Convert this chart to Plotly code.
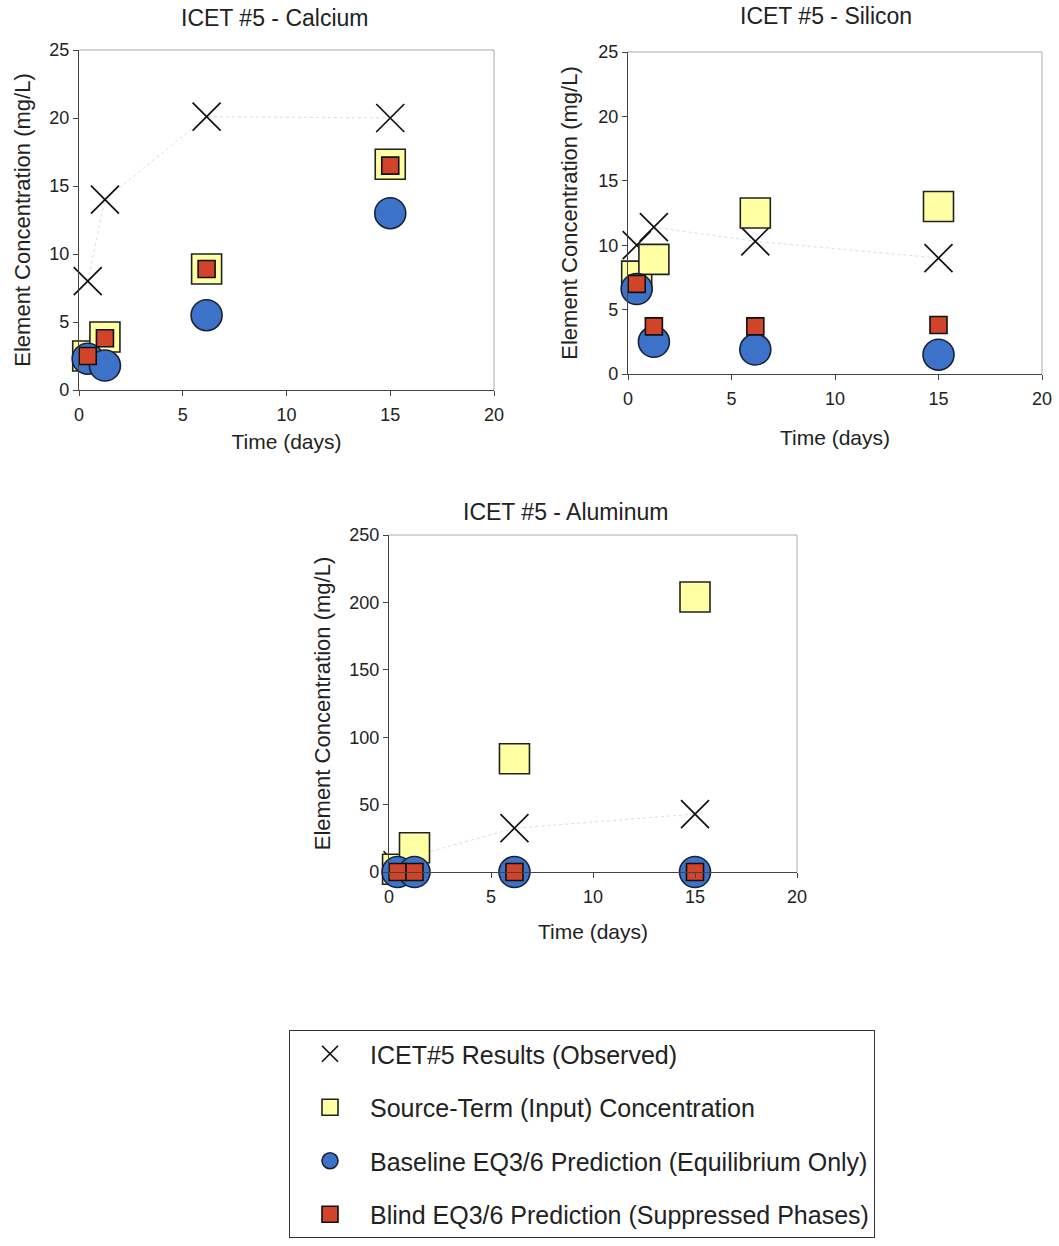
import plotly.graph_objects as go

# ---- data ----
days = [0.42, 1.25, 6.15, 15.0]

ca_observed = [8.0, 14.0, 20.1, 20.0]
ca_source = [2.5, 3.9, 8.9, 16.6]
ca_baseline = [2.3, 1.8, 5.5, 13.0]
ca_blind = [2.5, 3.8, 8.9, 16.5]

si_observed = [10.0, 11.4, 10.3, 9.0]
si_source = [7.6, 8.9, 12.5, 13.0]
si_baseline = [6.6, 2.5, 1.9, 1.5]
si_blind = [7.0, 3.7, 3.7, 3.8]

al_observed = [5.0, 12.0, 32.5, 43.0]
al_source = [2.0, 18.0, 84.0, 204.0]
al_baseline = [0.0, 0.0, 0.0, 0.0]
al_blind = [0.0, 0.0, 0.0, 0.0]

series_names = [
    "ICET#5 Results (Observed)",
    "Source-Term (Input) Concentration",
    "Baseline EQ3/6 Prediction (Equilibrium Only)",
    "Blind EQ3/6 Prediction (Suppressed Phases)",
]
titles = ["ICET #5 - Calcium", "ICET #5 - Silicon", "ICET #5 - Aluminum"]
x_title = "Time (days)"
y_title = "Element Concentration (mg/L)"

panels = [
    (ca_observed, ca_source, ca_baseline, ca_blind),
    (si_observed, si_source, si_baseline, si_blind),
    (al_observed, al_source, al_baseline, al_blind),
]

FONT = "Arial, 'Liberation Sans', sans-serif"
W, H = 1059, 1246

# pixel boxes of the plot areas: (left, right, top, bottom)
boxes = [(79, 494, 50, 390), (628, 1042, 52, 374), (389, 797, 535, 872)]
title_pos = [(274, 18), (826, 16), (565, 512)]
yranges = [[0, 25], [0, 25], [0, 250]]
ydticks = [5, 5, 50]
x_standoff = [10, 22, 18]
y_standoff = [12, 14, 12]

fig = go.Figure()

styles = [
    dict(symbol="x-thin-open", size=28, color="#111", line=dict(width=1.7, color="#111")),
    dict(symbol="square", size=30, color="#FFFFA3", line=dict(width=1.6, color="#222")),
    dict(symbol="circle", size=31, color="#3C72C8", line=dict(width=1.6, color="#1b2238")),
    dict(symbol="square", size=17, color="#D2442A", line=dict(width=1.6, color="#111")),
]

for i, data in enumerate(panels):
    xa = "x" if i == 0 else f"x{i+1}"
    ya = "y" if i == 0 else f"y{i+1}"
    # faint dotted line joining observed results
    fig.add_trace(go.Scatter(
        x=days, y=data[0], mode="lines", xaxis=xa, yaxis=ya,
        line=dict(color="#dddddd", width=1, dash="dot"),
        showlegend=False, hoverinfo="skip", cliponaxis=False,
    ))
    for k, vals in enumerate(data):
        fig.add_trace(go.Scatter(
            x=days, y=vals, mode="markers", xaxis=xa, yaxis=ya,
            name=series_names[k], legendgroup=f"g{k}",
            showlegend=(i == 0), marker=styles[k], cliponaxis=False,
        ))

layout = dict(
    width=W, height=H,
    margin=dict(l=0, r=0, t=0, b=0, autoexpand=False),
    paper_bgcolor="white", plot_bgcolor="white",
    font=dict(family=FONT, color="#222"),
    showlegend=True,
    legend=dict(
        x=289 / W, xanchor="left", y=1 - 1030 / H, yanchor="top",
        bordercolor="#333", borderwidth=1, bgcolor="white",
        font=dict(size=25, family=FONT, color="#222"),
        tracegroupgap=18, itemsizing="trace", itemwidth=70,
    ),
    annotations=[],
    shapes=[],
)

for i, (l, r, t, b) in enumerate(boxes):
    xk = "xaxis" if i == 0 else f"xaxis{i+1}"
    yk = "yaxis" if i == 0 else f"yaxis{i+1}"
    ya = "y" if i == 0 else f"y{i+1}"
    xa = "x" if i == 0 else f"x{i+1}"
    layout[xk] = dict(
        domain=[l / W, r / W], anchor=ya, range=[0, 20], dtick=5, automargin=False,
        showgrid=False, zeroline=False, showline=True, linecolor="#444", linewidth=1.2,
        ticks="outside", ticklen=5, tickcolor="#444", ticklabelstandoff=3,
        tickfont=dict(size=18, family=FONT, color="#222"),
        title=dict(text=x_title, font=dict(size=21, family=FONT, color="#222"),
                   standoff=x_standoff[i]),
    )
    layout[yk] = dict(
        domain=[1 - b / H, 1 - t / H], anchor=xa, range=yranges[i], dtick=ydticks[i],
        automargin=False,
        showgrid=False, zeroline=False, showline=True, linecolor="#444", linewidth=1.2,
        ticks="outside", ticklen=5, tickcolor="#444",
        tickfont=dict(size=18, family=FONT, color="#222"),
        title=dict(text=y_title, font=dict(size=22, family=FONT, color="#222"),
                   standoff=y_standoff[i]),
    )
    # light frame on top and right
    layout["shapes"].append(dict(type="line", xref=f"{xa} domain", yref=f"{ya} domain",
                                 x0=0, x1=1, y0=1, y1=1, line=dict(color="#aaa", width=1)))
    layout["shapes"].append(dict(type="line", xref=f"{xa} domain", yref=f"{ya} domain",
                                 x0=1, x1=1, y0=0, y1=1, line=dict(color="#aaa", width=1)))
    tx, ty = title_pos[i]
    layout["annotations"].append(dict(
        text=titles[i], xref="paper", yref="paper",
        x=tx / W, y=1 - ty / H, xanchor="center", yanchor="middle",
        showarrow=False, font=dict(size=23, family=FONT, color="#222"),
    ))

fig.update_layout(**layout)
fig.write_html("out.html")
